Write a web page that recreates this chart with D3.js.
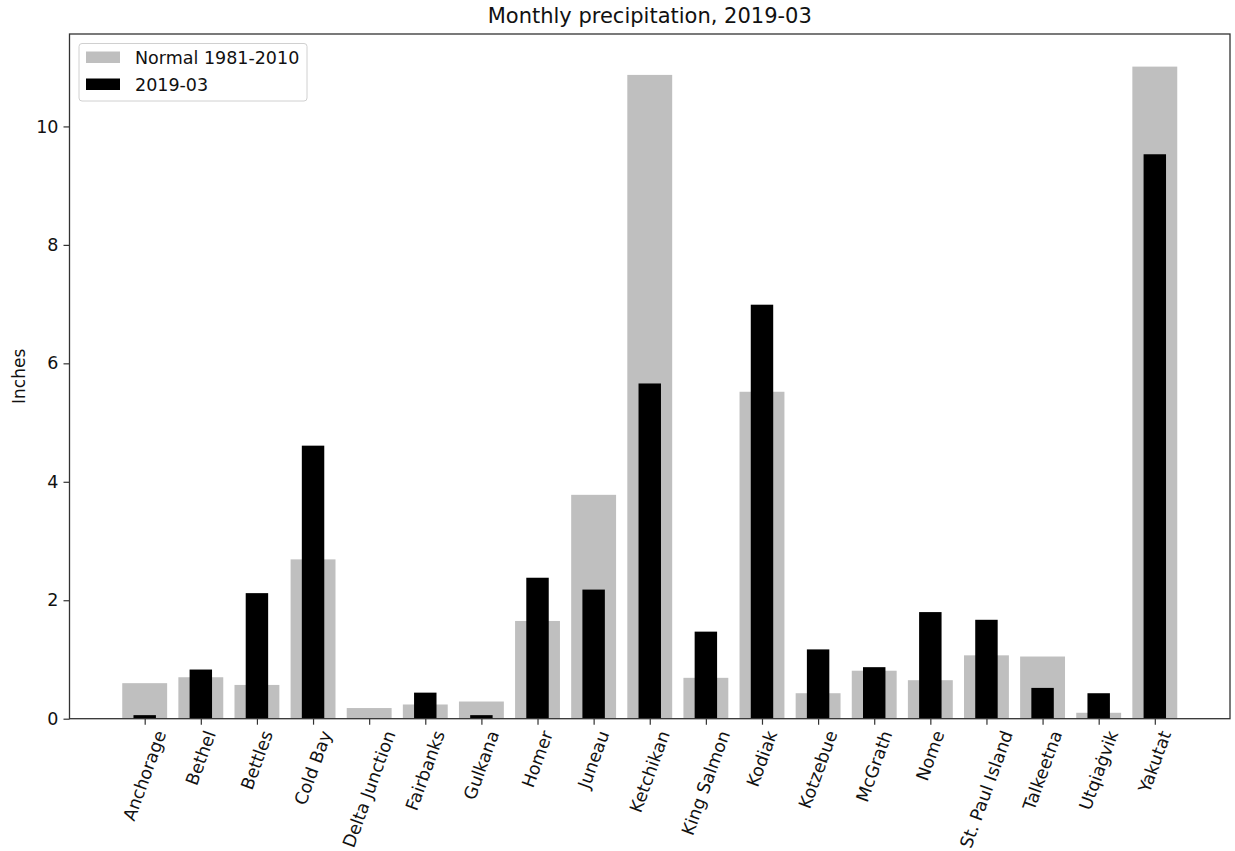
<style>body { margin: 0; }</style>
<svg width="1235" height="851"></svg>

<script src="https://cdn.jsdelivr.net/npm/d3@7"></script>
<script>
	// Monthly precipitation, Alaska stations, March 2019 vs 1981-2010 normals

	const stations = ["Anchorage", "Bethel", "Bettles", "Cold Bay", "Delta Junction", "Fairbanks",
		"Gulkana", "Homer", "Juneau", "Ketchikan", "King Salmon", "Kodiak", "Kotzebue",
		"McGrath", "Nome", "St. Paul Island", "Talkeetna", "Utqiaġvik", "Yakutat"]
	const normals = [0.60, 0.70, 0.57, 2.69, 0.18, 0.24, 0.29, 1.65, 3.78, 10.87, 0.69, 5.52, 0.43,
		0.81, 0.65, 1.07, 1.05, 0.10, 11.01]
	const observed = [0.06, 0.83, 2.12, 4.61, 0, 0.44, 0.06, 2.38, 2.18, 5.66, 1.47, 6.99, 1.17,
		0.87, 1.80, 1.67, 0.52, 0.43, 9.53]
	const yTicks = [0, 2, 4, 6, 8, 10]

	const seriesNames = ["Normal 1981-2010", "2019-03"]
	const seriesColors = ["#bfbfbf", "#000000"]

	// plot area edges
	const plotL = 69.5, plotR = 1230, plotT = 34, plotB = 718.7
	const font = "DejaVu Sans, sans-serif"
	const fs = 17.5

	const svg = d3.select("svg")
		.attr("font-family", font)

	// x like matplotlib: integer positions, 5% margins around the bars
	const n = stations.length
	const span = (n - 1) + 0.8
	const x = d3.scaleLinear()
		.domain([-0.4 - 0.05 * span, n - 1 + 0.4 + 0.05 * span])
		.range([plotL, plotR])
	const unit = x(1) - x(0)

	const ymax = d3.max(normals.concat(observed)) * 1.05
	const y = d3.scaleLinear().domain([0, ymax]).range([plotB, plotT])

	// normals: wide grey bars
	svg.append("g")
		.selectAll("rect")
		.data(normals)
		.join("rect")
			.attr("x", (d, i) => x(i) - 0.4 * unit)
			.attr("width", 0.8 * unit)
			.attr("y", d => y(d))
			.attr("height", d => y(0) - y(d))
			.attr("fill", seriesColors[0])

	// this month: narrow black bars
	svg.append("g")
		.selectAll("rect")
		.data(observed)
		.join("rect")
			.attr("x", (d, i) => x(i) - 0.2 * unit)
			.attr("width", 0.4 * unit)
			.attr("y", d => y(d))
			.attr("height", d => y(0) - y(d))
			.attr("fill", seriesColors[1])

	// y axis
	const yAxis = svg.append("g")
		.attr("transform", `translate(${plotL},0)`)
		.call(d3.axisLeft(y).tickValues(yTicks).tickSize(6).tickPadding(5))
	yAxis.select(".domain").remove()
	yAxis.selectAll("line").attr("stroke", "#333").attr("stroke-width", 1.2)
	yAxis.selectAll("text").attr("font-size", fs).attr("font-family", font).attr("fill", "#111")

	// x axis ticks
	const xAxis = svg.append("g")
		.attr("transform", `translate(0,${plotB})`)
		.call(d3.axisBottom(x).tickValues(d3.range(n)).tickSize(6).tickFormat(""))
	xAxis.select(".domain").remove()
	xAxis.selectAll("line").attr("stroke", "#333").attr("stroke-width", 1.2)

	// rotated station labels, bbox centred under the tick
	const angle = 70 * Math.PI / 180
	const labels = svg.append("g")
		.attr("font-size", fs)
		.attr("fill", "#111")
		.selectAll("text")
		.data(stations)
		.join("text")
			.attr("text-anchor", "middle")
			.attr("dominant-baseline", "central")
			.text(d => d)
	labels.each(function (d, i) {
		const L = this.getComputedTextLength()
		const h = 16
		const H = L * Math.sin(angle) + h * Math.cos(angle)
		d3.select(this).attr("transform",
			`translate(${x(i)},${plotB + 10 + H / 2}) rotate(-70)`)
	})

	// frame
	svg.append("rect")
		.attr("x", plotL).attr("y", plotT)
		.attr("width", plotR - plotL).attr("height", plotB - plotT)
		.attr("fill", "none")
		.attr("stroke", "#333")
		.attr("stroke-width", 1.3)

	// title and y label
	svg.append("text")
		.attr("x", (plotL + plotR) / 2)
		.attr("y", 23)
		.attr("text-anchor", "middle")
		.attr("font-size", 21)
		.attr("fill", "#111")
		.text("Monthly precipitation, 2019-03")

	svg.append("text")
		.attr("transform", `translate(25,${(plotT + plotB) / 2}) rotate(-90)`)
		.attr("text-anchor", "middle")
		.attr("font-size", 17)
		.attr("fill", "#111")
		.text("Inches")

	// legend
	const legend = svg.append("g").attr("transform", "translate(79,43.5)")
	legend.append("rect")
		.attr("width", 228).attr("height", 57.5)
		.attr("rx", 3)
		.attr("fill", "white").attr("fill-opacity", 0.8)
		.attr("stroke", "#d0d0d0")
	const item = legend.selectAll("g.item")
		.data(seriesNames)
		.join("g")
			.attr("class", "item")
			.attr("transform", (d, i) => `translate(7,${8 + i * 27})`)
	item.append("rect")
		.attr("width", 34).attr("height", 11.5)
		.attr("fill", (d, i) => seriesColors[i])
	item.append("text")
		.attr("x", 49).attr("y", 6)
		.attr("dominant-baseline", "central")
		.attr("font-size", fs)
		.attr("fill", "#111")
		.text(d => d)
</script>
